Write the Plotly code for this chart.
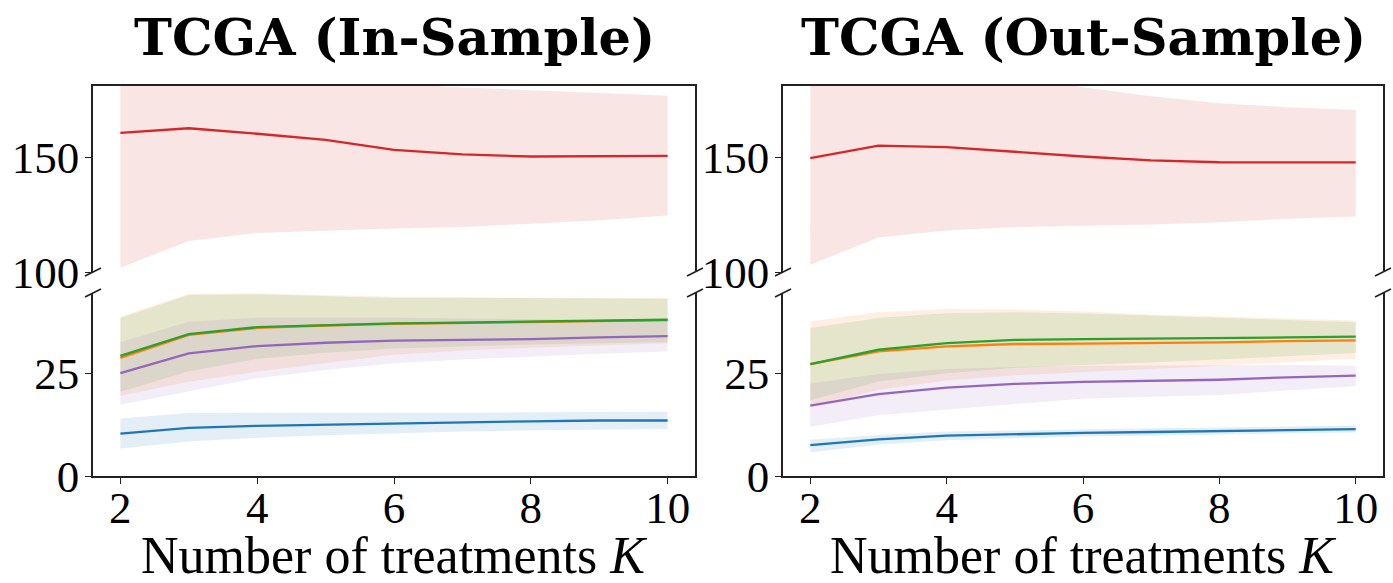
import plotly.graph_objects as go

# ---------------- data ----------------
K = [2, 3, 4, 5, 6, 7, 8, 9, 10]

# In-sample
red_in = [160.6, 162.6, 160.2, 157.5, 153.2, 151.2, 150.3, 150.3, 150.6]
red_in_hi = [190, 193, 189, 186, 182, 180.3, 179.2, 178.0, 176.8]
red_in_lo = [101.9, 113.5, 117.0, 118.1, 118.9, 119.6, 121.0, 122.5, 124.6]

green_in = [29.2, 34.5, 36.2, 36.7, 37.1, 37.3, 37.5, 37.7, 38.0]
green_in_hi = [38.4, 44.0, 44.2, 43.8, 43.3, 43.3, 43.2, 43.2, 43.1]
green_in_lo = [20.5, 25.5, 28.5, 30.0, 31.0, 31.5, 32.0, 32.3, 32.6]

orange_in = [28.7, 34.3, 36.0, 36.6, 37.0, 37.2, 37.4, 37.6, 37.9]
orange_in_hi = [38.8, 44.3, 44.4, 44.0, 43.6, 43.5, 43.4, 43.3, 43.2]
orange_in_lo = [19.5, 22.9, 25.4, 27.5, 29.5, 30.5, 31.2, 31.8, 32.3]

purple_in = [25.0, 29.8, 31.6, 32.4, 32.9, 33.1, 33.3, 33.7, 34.0]
purple_in_hi = [32.5, 37.5, 38.5, 38.5, 38.5, 38.3, 38.2, 38.0, 37.8]
purple_in_lo = [17.3, 20.5, 23.8, 25.8, 27.4, 28.3, 29.0, 29.7, 30.3]

blue_in = [10.3, 11.7, 12.2, 12.5, 12.7, 13.0, 13.3, 13.5, 13.5]
blue_in_hi = [14.0, 15.3, 15.4, 15.4, 15.3, 15.4, 15.5, 15.6, 15.6]
blue_in_lo = [6.7, 8.4, 9.3, 9.9, 10.4, 10.8, 11.1, 11.3, 11.4]

# Out-sample
red_out = [149.6, 155.0, 154.4, 152.2, 150.3, 148.6, 147.8, 147.7, 147.7]
red_out_hi = [190, 194, 192, 185, 180.5, 176.5, 173.5, 171.8, 170.6]
red_out_lo = [103.2, 115.0, 118.1, 119.6, 120.3, 120.7, 121.7, 123.2, 124.2]

green_out = [27.2, 30.7, 32.3, 33.1, 33.3, 33.4, 33.5, 33.7, 33.9]
green_out_hi = [36.0, 38.4, 39.6, 39.8, 39.5, 39.0, 38.4, 38.0, 37.4]
green_out_lo = [18.4, 23.0, 25.0, 26.3, 27.0, 27.6, 28.3, 29.1, 29.9]

orange_out = [27.2, 30.3, 31.5, 32.1, 32.2, 32.3, 32.5, 32.8, 33.0]
orange_out_hi = [37.6, 39.8, 40.6, 40.5, 40.0, 39.3, 38.8, 38.3, 37.8]
orange_out_lo = [16.8, 21.0, 23.2, 24.5, 25.3, 26.0, 26.8, 27.6, 28.5]

purple_out = [17.1, 19.9, 21.5, 22.4, 22.9, 23.2, 23.4, 24.0, 24.4]
purple_out_hi = [22.5, 24.8, 26.0, 26.5, 26.8, 26.9, 27.0, 27.0, 26.8]
purple_out_lo = [12.0, 14.8, 16.1, 17.5, 18.8, 19.3, 19.7, 20.8, 21.8]

blue_out = [7.5, 8.9, 9.8, 10.2, 10.5, 10.7, 10.9, 11.2, 11.4]
blue_out_hi = [8.8, 10.0, 10.8, 11.1, 11.4, 11.6, 11.8, 12.1, 12.3]
blue_out_lo = [5.8, 7.6, 8.7, 9.2, 9.6, 9.8, 10.1, 10.4, 10.6]

titles = ["TCGA (In-Sample)", "TCGA (Out-Sample)"]
xlabel = "Number of treatments <i>K</i>"
x_ticks = [2, 4, 6, 8, 10]
y_ticks_low = [0, 25]
y_ticks_up = [100, 150]

# ---------------- style ----------------
COL = {"red": (214, 39, 40), "green": (44, 160, 44), "orange": (255, 127, 14),
       "purple": (148, 103, 189), "blue": (31, 119, 180)}
FILL_A = 0.12
FONT = "Liberation Serif"
W, H = 1393, 583

def rgb(c):
    return "rgb(%d,%d,%d)" % c

def rgba(c, a):
    return "rgba(%d,%d,%d,%.3f)" % (c[0], c[1], c[2], a)

fig = go.Figure()

def add_series(x, mean, lo, hi, color, xa, ya):
    fig.add_trace(go.Scatter(
        x=list(x) + list(x)[::-1], y=list(hi) + list(lo)[::-1],
        fill="toself", fillcolor=rgba(COL[color], FILL_A), mode="lines",
        line=dict(width=0), hoverinfo="skip", showlegend=False,
        xaxis=xa, yaxis=ya))

def add_line(x, mean, color, xa, ya):
    fig.add_trace(go.Scatter(
        x=x, y=mean, mode="lines", line=dict(color=rgb(COL[color]), width=2.3),
        showlegend=False, xaxis=xa, yaxis=ya))

panels = [
    ("x", "y", "x2", "y2",
     dict(red=(red_in, red_in_lo, red_in_hi), green=(green_in, green_in_lo, green_in_hi),
          orange=(orange_in, orange_in_lo, orange_in_hi), purple=(purple_in, purple_in_lo, purple_in_hi),
          blue=(blue_in, blue_in_lo, blue_in_hi))),
    ("x3", "y3", "x4", "y4",
     dict(red=(red_out, red_out_lo, red_out_hi), green=(green_out, green_out_lo, green_out_hi),
          orange=(orange_out, orange_out_lo, orange_out_hi), purple=(purple_out, purple_out_lo, purple_out_hi),
          blue=(blue_out, blue_out_lo, blue_out_hi))),
]

for xl, yl, xu, yu, d in panels:
    m, lo, hi = d["red"]
    add_series(K, m, lo, hi, "red", xu, yu)
    add_line(K, m, "red", xu, yu)
    for c in ["blue", "orange", "green", "purple"]:
        m, lo, hi = d[c]
        add_series(K, m, lo, hi, c, xl, yl)
    for c in ["blue", "purple", "orange", "green"]:
        m, lo, hi = d[c]
        add_line(K, m, c, xl, yl)

# ---------------- layout ----------------
xL = [93 / W, 695 / W]
xR = [783 / W, 1383 / W]
yUp = [1 - 272 / H, 1 - 86 / H]
yLo = [1 - 476 / H, 1 - 293 / H]

tickfont = dict(family=FONT, size=45, color="black")
LINEC = "#222222"
LW = 1.6
xrange_ = [1.6, 10.4]

def xlow(dom, anchor):
    return dict(domain=dom, anchor=anchor, range=xrange_, tickvals=x_ticks,
                ticks="outside", ticklen=6, tickwidth=1.4, tickcolor=LINEC,
                showline=True, linecolor=LINEC, linewidth=LW, mirror=False,
                showgrid=False, zeroline=False, tickfont=tickfont,
                ticklabelstandoff=-15, automargin=False)

def xup(dom, anchor, match):
    return dict(domain=dom, anchor=anchor, range=xrange_, side="top",
                showline=True, linecolor=LINEC, linewidth=LW, ticks="",
                showticklabels=False, showgrid=False, zeroline=False, matches=match,
                automargin=False)

def yax(dom, anchor, rng, tv):
    return dict(domain=dom, anchor=anchor, range=rng, tickvals=tv,
                ticks="outside", ticklen=6, tickwidth=1.4, tickcolor=LINEC,
                showline=True, linecolor=LINEC, linewidth=LW, mirror=True,
                showgrid=False, zeroline=False, tickfont=tickfont,
                ticklabelstandoff=-3, automargin=False)

fig.update_layout(
    width=W, height=H, autosize=False,
    margin=dict(l=0, r=0, t=0, b=0, pad=0, autoexpand=False),
    paper_bgcolor="white", plot_bgcolor="white",
    showlegend=False,
    xaxis=xlow(xL, "y"),
    yaxis=yax(yLo, "x", [0, 44.5], y_ticks_low),
    xaxis2=xup(xL, "y2", "x"),
    yaxis2=yax(yUp, "x2", [100, 181], y_ticks_up),
    xaxis3=xlow(xR, "y3"),
    yaxis3=yax(yLo, "x3", [0, 44.5], y_ticks_low),
    xaxis4=xup(xR, "y4", "x3"),
    yaxis4=yax(yUp, "x4", [100, 181], y_ticks_up),
)

# titles and x labels
for dom, t in zip([xL, xR], titles):
    cx = (dom[0] + dom[1]) / 2
    fig.add_annotation(x=cx, y=1 - 37 / H, xref="paper", yref="paper",
                       text="<b>%s</b>" % t, showarrow=False,
                       font=dict(family="DejaVu Serif", size=51, color="black"),
                       xanchor="center", yanchor="middle")
    fig.add_annotation(x=cx, y=1 - 555 / H, xref="paper", yref="paper",
                       text=xlabel, showarrow=False,
                       font=dict(family=FONT, size=52, color="black"),
                       xanchor="center", yanchor="middle")

# axis-break marks (decoration, paper coordinates)
dx, dy = 8 / W, 4 / H
for dom in [xL, xR]:
    for xe in dom:
        for ye in [yUp[0], yLo[1]]:
            fig.add_shape(type="line", xref="paper", yref="paper",
                          x0=xe - dx, y0=ye - dy, x1=xe + dx, y1=ye + dy,
                          line=dict(color=LINEC, width=LW))

fig.write_html("out.html", config={"displayModeBar": False},
               post_script="document.body.style.margin='0';document.body.style.overflow='hidden';")
